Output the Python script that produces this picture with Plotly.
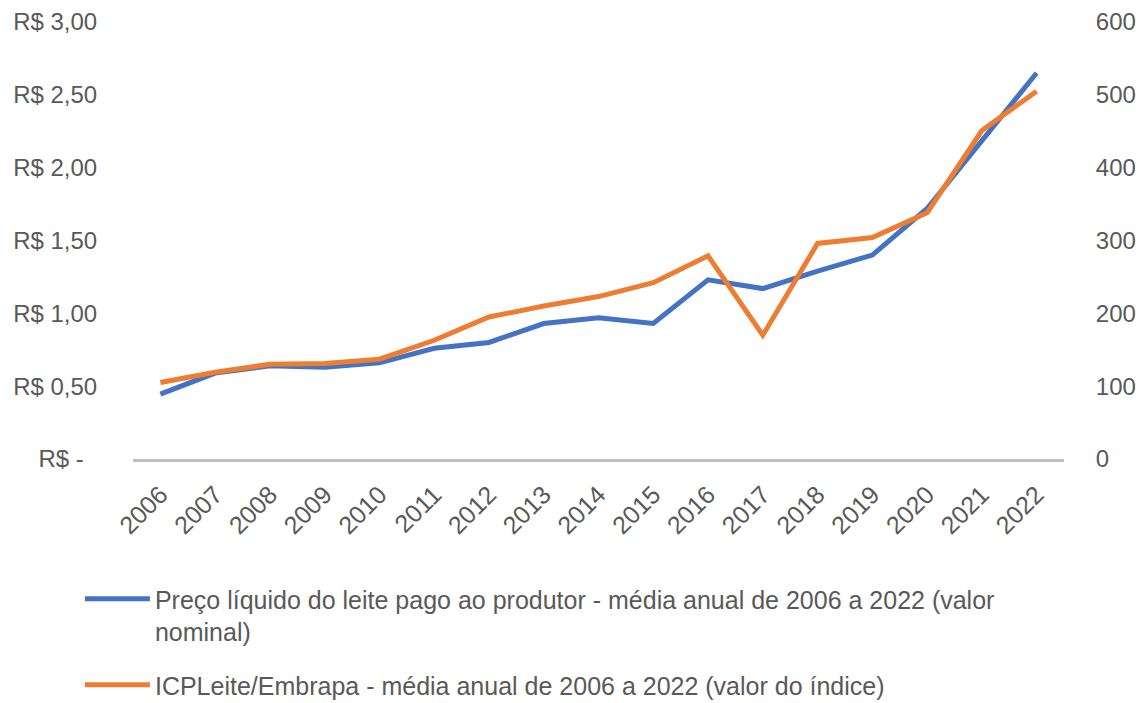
import plotly.graph_objects as go

years = ["2006", "2007", "2008", "2009", "2010", "2011", "2012", "2013", "2014",
         "2015", "2016", "2017", "2018", "2019", "2020", "2021", "2022"]
preco = [0.445, 0.59, 0.64, 0.63, 0.66, 0.76, 0.80, 0.93, 0.97,
         0.93, 1.23, 1.17, 1.29, 1.40, 1.72, 2.18, 2.65]
icp = [105, 119, 130, 131, 137, 163, 195, 210, 223,
       242, 279, 170, 296, 304, 338, 451, 505]

left_vals = [0, 0.5, 1.0, 1.5, 2.0, 2.5, 3.0]
left_text = ["R$ -  ", "R$ 0,50", "R$ 1,00", "R$ 1,50", "R$ 2,00", "R$ 2,50", "R$ 3,00"]
right_vals = [0, 100, 200, 300, 400, 500, 600]

name1 = "Preço líquido do leite pago ao produtor - média anual de 2006 a 2022 (valor<br>nominal)"
name2 = "ICPLeite/Embrapa - média anual de 2006 a 2022 (valor do índice)"

font_family = "Liberation Sans, Arial, sans-serif"
grey = "#595959"

fig = go.Figure()
fig.add_trace(go.Scatter(x=years, y=preco, name=name1, mode="lines", legendgroup="a",
                         line=dict(color="#4472C4", width=5), yaxis="y"))
fig.add_trace(go.Scatter(x=years, y=icp, name=name2, mode="lines", legendgroup="b",
                         line=dict(color="#ED7D31", width=5), yaxis="y2"))

fig.update_layout(
    width=1146, height=703,
    margin=dict(l=133, r=82, t=22, b=244, autoexpand=False),
    paper_bgcolor="white", plot_bgcolor="white",
    font=dict(family=font_family, size=24, color=grey),
    showlegend=True,
    legend=dict(
        orientation="v", x=-0.057, xanchor="left", y=-0.268, yanchor="top",
        valign="top", font=dict(size=25, color=grey), itemwidth=65,
        tracegroupgap=18, bgcolor="rgba(0,0,0,0)",
    ),
    xaxis=dict(
        type="category", range=[-0.5, 16.5], showgrid=False, zeroline=False,
        showline=True, linecolor="#BFBFBF", linewidth=3, automargin=False,
        tickangle=-45, ticks="outside", ticklen=8, tickcolor="rgba(0,0,0,0)",
        tickfont=dict(size=25, color=grey),
    ),
    yaxis=dict(
        range=[0, 3], tickvals=left_vals, ticktext=left_text, automargin=False,
        showgrid=False, zeroline=False, showline=False,
        ticks="outside", ticklen=30, tickcolor="rgba(0,0,0,0)",
        tickfont=dict(size=24, color=grey),
    ),
    yaxis2=dict(
        range=[0, 600], tickvals=right_vals, overlaying="y", side="right",
        showgrid=False, zeroline=False, showline=False, automargin=False,
        ticks="outside", ticklen=26, tickcolor="rgba(0,0,0,0)",
        tickfont=dict(size=24, color=grey),
    ),
)

fig.write_html("out.html")
